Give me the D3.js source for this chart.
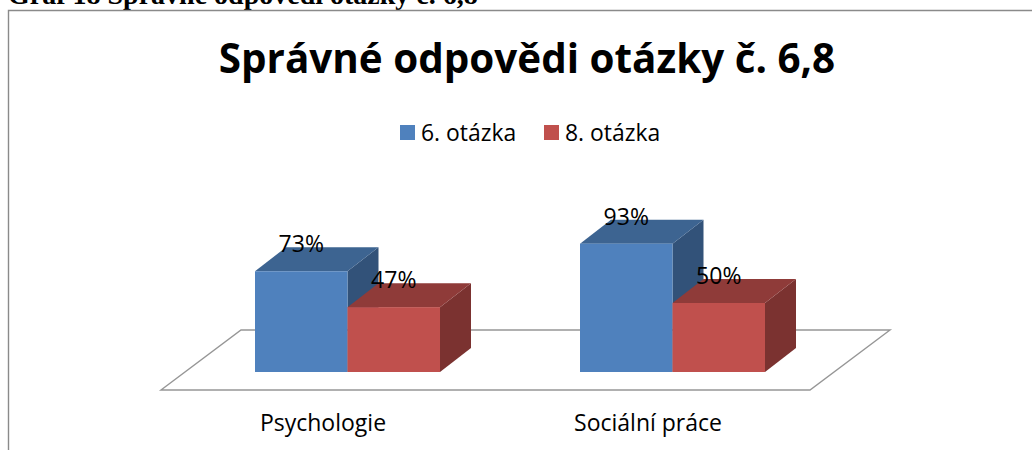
<!DOCTYPE html>
<html><head><meta charset="utf-8">
<script src="https://cdnjs.cloudflare.com/ajax/libs/d3/7.8.5/d3.min.js"></script>
<style>html,body{margin:0;padding:0;background:#fff;overflow:hidden}svg{display:block}
text{font-family:"Open Sans","Noto Sans",sans-serif;fill:#000}</style></head><body>
<script>
const categories = ["Psychologie", "Sociální práce"];
const seriesNames = ["6. otázka", "8. otázka"];
const q6 = [73, 93];
const q8 = [47, 50];
const colors = ["#4f81bd", "#c0504d"];
const topColors = ["#3d6491", "#8f3b39"];
const sideColors = ["#325279", "#7b3230"];
const heading = "Graf 18 Správné odpovědi otázky č. 6,8";
const chartTitle = "Správné odpovědi otázky č. 6,8";

const svg = d3.select("body").append("svg").attr("width",1032).attr("height",450);
const x0 = d3.scaleBand().domain(categories).range([185,835]).paddingInner(140/325).paddingOuter(70/325);
const x1 = d3.scaleBand().domain(seriesNames).range([0,x0.bandwidth()]);
const y = d3.scaleLinear().domain([0,100]).range([372,234]);
const dx = 31, dy = -24, floorDx = 80, floorDy = -60;
const floorLeft = 161, floorRight = 810;

svg.append("text").text(heading).attr("x",8).attr("y",4)
  .style("font-family","'Liberation Serif',serif").style("font-weight",700).style("font-size","28px");
svg.append("path").attr("d","M1032,10.5H8.5V450").attr("fill","none").attr("stroke","#8a8a8a").attr("stroke-width",1.4);

svg.append("text").text(chartTitle).attr("x",527).attr("y",73).attr("text-anchor","middle")
  .style("font-weight",700).style("font-size","40.4px");

const legendX = [400,544];
seriesNames.forEach((s,i)=>{
  svg.append("rect").attr("x",legendX[i]).attr("y",125).attr("width",15).attr("height",15).attr("fill",colors[i]);
  svg.append("text").text(s).attr("x",legendX[i]+21).attr("y",141).style("font-size","22.9px");
});

const floorFront = y(0)+18;
svg.append("path").attr("d",`M${floorLeft},${floorFront}H${floorRight}L${floorRight+floorDx},${floorFront+floorDy}H${floorLeft+floorDx}Z`)
  .attr("fill","#fff").attr("stroke","#969696").attr("stroke-width",1.4);

const rows = categories.flatMap((c,ci)=>[{c,s:0,v:q6[ci]},{c,s:1,v:q8[ci]}]);
const left = d=>x0(d.c)+x1(seriesNames[d.s]);
const groups = svg.selectAll("g.bar").data(rows).join("g").attr("class","bar");
groups.append("path").attr("fill",d=>sideColors[d.s]).attr("d",d=>{
  const r=left(d)+x1.bandwidth(), t=y(d.v), b=y(0);
  return `M${r},${t}l${dx},${dy}V${b+dy}L${r},${b}Z`;});
groups.append("path").attr("fill",d=>topColors[d.s]).attr("d",d=>{
  const l=left(d), t=y(d.v);
  return `M${l},${t}l${dx},${dy}h${x1.bandwidth()}l${-dx},${-dy}Z`;});
groups.append("rect").attr("fill",d=>colors[d.s]).attr("x",left).attr("y",d=>y(d.v))
  .attr("width",x1.bandwidth()).attr("height",d=>y(0)-y(d.v));
svg.selectAll("text.val").data(rows).join("text").attr("class","val").text(d=>d.v+"%")
  .attr("x",d=>left(d)+x1.bandwidth()/2).attr("y",d=>y(d.v)-19).attr("text-anchor","middle")
  .style("font-size","23px");
svg.selectAll("text.cat").data(categories).join("text").attr("class","cat").text(d=>d)
  .attr("x",d=>x0(d)+x0.bandwidth()/2-24.5).attr("y",431).attr("text-anchor","middle").style("font-size","23px");
</script></body></html>
